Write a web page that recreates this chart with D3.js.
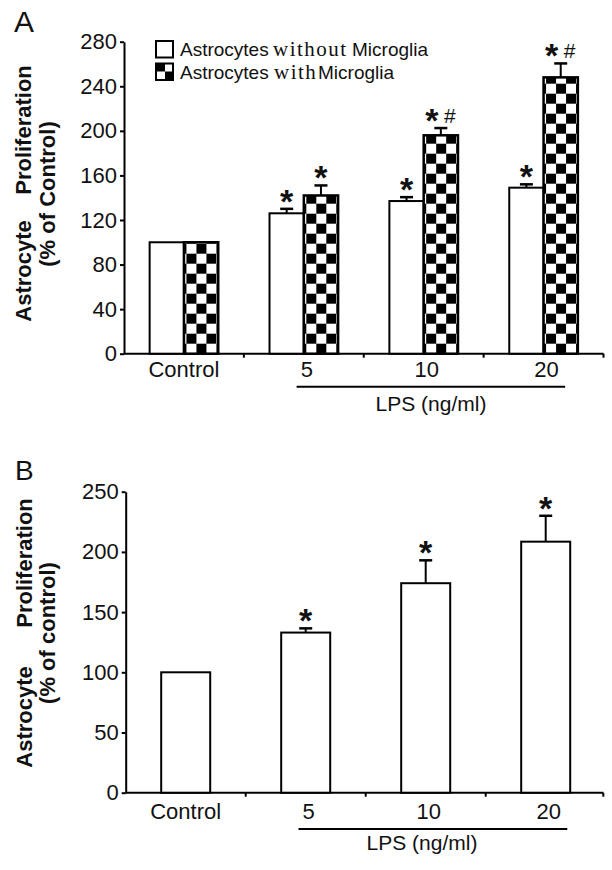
<!DOCTYPE html>
<html>
<head>
<meta charset="utf-8">
<script src="https://cdn.jsdelivr.net/npm/d3@7"></script>
<style>
body { margin: 0; background: #fff; }
text { font-family: Arial, "Liberation Sans", sans-serif; fill: #111; }
</style>
</head>
<body>
<script>
//chart data
var groups = ["Control", "5", "10", "20"];
var seriesNames = ["Astrocytes without Microglia", "Astrocytes with Microglia"];

//panel A
var withoutMg = [100, 126, 137, 149];
var withoutMgErr = [0, 4, 3.5, 3];
var withMg = [100, 142, 196, 248];
var withMgErr = [0, 9, 6.5, 12.5];
var marksWithout = ["", "*", "*", "*"];
var marksWith = ["", "*", "*#", "*#"];
var ticksA = [0, 40, 80, 120, 160, 200, 240, 280];

//panel B
var valuesB = [100, 133, 174, 208.5];
var errB = [0, 3.5, 19, 21.5];
var marksB = ["", "*", "*", "*"];
var ticksB = [0, 50, 100, 150, 200, 250];

var width = 612, height = 870;

var svg = d3.select("body")
	.append("svg")
	.attr("width", width)
	.attr("height", height);

var defs = svg.append("defs");
var patternCount = 0;

//checkerboard pattern anchored at a given origin
function checker(ox, oy, cell){
	var id = "chk" + (patternCount++);
	var p = defs.append("pattern")
		.attr("id", id)
		.attr("patternUnits", "userSpaceOnUse")
		.attr("x", ox).attr("y", oy)
		.attr("width", cell * 2).attr("height", cell * 2);
	p.append("rect").attr("width", cell * 2).attr("height", cell * 2).attr("fill", "#fff");
	p.append("rect").attr("width", cell).attr("height", cell).attr("fill", "#000");
	p.append("rect").attr("x", cell).attr("y", cell).attr("width", cell).attr("height", cell).attr("fill", "#000");
	return "url(#" + id + ")";
}

//draws significance marks ("*" bold, "#" regular) centred on cx
function drawMarks(g, str, cx, capY){
	if (!str) return;
	var chars = str.split("");
	var step = 18;
	chars.forEach(function(c, i){
		var dx = (i - (chars.length - 1) / 2) * step;
		if (c === "*") {
			g.append("text")
				.attr("x", cx + dx).attr("y", capY + 4)
				.attr("text-anchor", "middle")
				.style("font-size", "34px").style("font-weight", "bold")
				.text("*");
		} else {
			g.append("text")
				.attr("x", cx + dx).attr("y", capY - 5)
				.attr("text-anchor", "middle")
				.style("font-size", "21px")
				.text(c);
		}
	});
}

function drawErr(g, cx, yTop, yCap){
	if (yTop - yCap < 0.5) return;
	g.append("line").attr("x1", cx).attr("x2", cx).attr("y1", yTop).attr("y2", yCap)
		.attr("stroke", "#000").attr("stroke-width", 2);
	g.append("line").attr("x1", cx - 6.5).attr("x2", cx + 6.5).attr("y1", yCap).attr("y2", yCap)
		.attr("stroke", "#000").attr("stroke-width", 2.5);
}

//common axis frame: y axis, x baseline with boundary ticks, labels, LPS bracket
function drawFrame(g, x, y, ticks, xEnd, labelY, lpsY, lpsTextX, lpsTextY){
	var y0 = y.range()[0];
	var yAxis = g.append("g")
		.attr("transform", "translate(" + x.range()[0] + ",0)")
		.call(d3.axisLeft(y).tickValues(ticks).tickSize(4).tickSizeOuter(0).tickPadding(3));
	yAxis.select(".domain").attr("stroke-width", 2);
	yAxis.selectAll(".tick line").attr("stroke-width", 2);
	yAxis.selectAll("text").style("font-size", "22px").attr("fill", "#111");

	g.append("line")
		.attr("x1", x.range()[0]).attr("x2", xEnd)
		.attr("y1", y0).attr("y2", y0)
		.attr("stroke", "#000").attr("stroke-width", 2);

	var bounds = groups.slice(1).map(function(d){ return x(d); }).concat([xEnd]);
	g.selectAll(".xtick")
		.data(bounds)
		.enter()
		.append("line")
		.attr("class", "xtick")
		.attr("x1", function(d){ return d; }).attr("x2", function(d){ return d; })
		.attr("y1", y0).attr("y2", y0 + 4)
		.attr("stroke", "#000").attr("stroke-width", 2);

	g.selectAll(".xlab")
		.data(groups)
		.enter()
		.append("text")
		.attr("class", "xlab")
		.attr("x", function(d){ return x(d) + x.bandwidth() / 2 + (d === "Control" ? 0 : 3); })
		.attr("y", labelY)
		.attr("text-anchor", "middle")
		.style("font-size", "22px")
		.text(function(d){ return d; });

	g.append("line")
		.attr("x1", x("5") + x.bandwidth() * 0.44)
		.attr("x2", x("20") + x.bandwidth() * 0.68)
		.attr("y1", lpsY).attr("y2", lpsY)
		.attr("stroke", "#000").attr("stroke-width", 2);

	g.append("text")
		.attr("x", lpsTextX).attr("y", lpsTextY)
		.attr("text-anchor", "middle")
		.style("font-size", "21px")
		.text("LPS (ng/ml)");
}

function yLabel(g, x1, x2, yP, yA, yC, ctrlText){
	g.append("text")
		.attr("transform", "translate(" + x1 + "," + yP + ") rotate(-90)")
		.attr("text-anchor", "middle")
		.style("font-size", "22px").style("font-weight", "bold")
		.text("Proliferation");
	g.append("text")
		.attr("transform", "translate(" + x1 + "," + yA + ") rotate(-90)")
		.attr("text-anchor", "middle")
		.style("font-size", "22px").style("font-weight", "bold")
		.text("Astrocyte");
	g.append("text")
		.attr("transform", "translate(" + x2 + "," + yC + ") rotate(-90)")
		.attr("text-anchor", "middle")
		.style("font-size", "22px").style("font-weight", "bold")
		.text(ctrlText);
}

//---------- panel A ----------
var gA = svg.append("g");
var xA = d3.scaleBand().domain(groups).range([124, 603.5]);
var yA = d3.scaleLinear().domain([0, 280]).range([353.7, 41.7]);
var pairW = 68.6;
var xInner = d3.scaleBand().domain([0, 1]).range([0, pairW]);

gA.append("text").attr("x", 14).attr("y", 32).style("font-size", "30px").text("A");
yLabel(gA, 31, 55, 130, 271, 194, "(% of Control)");

drawFrame(gA, xA, yA, ticksA, 603.5, 377, 386.7, 431, 411);

groups.forEach(function(gname, i){
	var left = xA(gname) + (xA.bandwidth() - pairW) / 2;
	var y0 = yA(0);

	//without microglia (white)
	var bx = left + xInner(0), bw = xInner.bandwidth();
	gA.append("rect")
		.attr("x", bx).attr("y", yA(withoutMg[i]))
		.attr("width", bw).attr("height", y0 - yA(withoutMg[i]))
		.attr("fill", "#fff").attr("stroke", "#000").attr("stroke-width", 2);
	drawErr(gA, bx + bw / 2, yA(withoutMg[i]), yA(withoutMg[i] + withoutMgErr[i]));
	drawMarks(gA, marksWithout[i], bx + bw / 2, yA(withoutMg[i] + withoutMgErr[i]));

	//with microglia (checker)
	var cx = left + xInner(1);
	gA.append("rect")
		.attr("x", cx).attr("y", yA(withMg[i]))
		.attr("width", bw).attr("height", y0 - yA(withMg[i]))
		.attr("fill", checker(cx + 2.5, y0, 10)).attr("stroke", "#000").attr("stroke-width", 2.5);
	drawErr(gA, cx + bw / 2, yA(withMg[i]), yA(withMg[i] + withMgErr[i]));
	drawMarks(gA, marksWith[i], cx + bw / 2, yA(withMg[i] + withMgErr[i]));
});

//legend
var legend = gA.append("g");
var legRows = [
	{ y: 41, parts: [["Astrocytes", 180, false], ["without", 273, true], ["Microglia", 352, false]] },
	{ y: 63.5, parts: [["Astrocytes", 180, false], ["with", 274, true], ["Microglia", 318, false]] }
];
legRows.forEach(function(r, i){
	legend.append("rect")
		.attr("x", 156).attr("y", r.y)
		.attr("width", 17).attr("height", 16.5)
		.attr("fill", i === 0 ? "#fff" : checker(157, r.y, 8))
		.attr("stroke", "#000").attr("stroke-width", 2);
	var t = legend.append("text").attr("y", r.y + 15).style("font-size", "19px");
	r.parts.forEach(function(p){
		t.append("tspan")
			.attr("x", p[1])
			.style("font-family", p[2] ? "'Liberation Serif', 'Times New Roman', serif" : null)
			.style("font-size", p[2] ? "21px" : null)
			.style("letter-spacing", p[2] ? "1.5px" : null)
			.text(p[0]);
	});
});

//---------- panel B ----------
var gB = svg.append("g");
var xB = d3.scaleBand().domain(groups).range([125.7, 605.7]);
var yB = d3.scaleLinear().domain([0, 250]).range([792.7, 491.7]);
var barW = 49;

gB.append("text").attr("x", 15).attr("y", 480).style("font-size", "28px").text("B");
yLabel(gB, 32, 55, 563, 717, 633, "(% of control)");

drawFrame(gB, xB, yB, ticksB, 603.3, 819, 829, 422, 850);

groups.forEach(function(gname, i){
	var bx = xB(gname) + (xB.bandwidth() - barW) / 2;
	gB.append("rect")
		.attr("x", bx).attr("y", yB(valuesB[i]))
		.attr("width", barW).attr("height", yB(0) - yB(valuesB[i]))
		.attr("fill", "#fff").attr("stroke", "#000").attr("stroke-width", 2);
	drawErr(gB, bx + barW / 2, yB(valuesB[i]), yB(valuesB[i] + errB[i]));
	drawMarks(gB, marksB[i], bx + barW / 2, yB(valuesB[i] + errB[i]));
});
</script>
</body>
</html>
